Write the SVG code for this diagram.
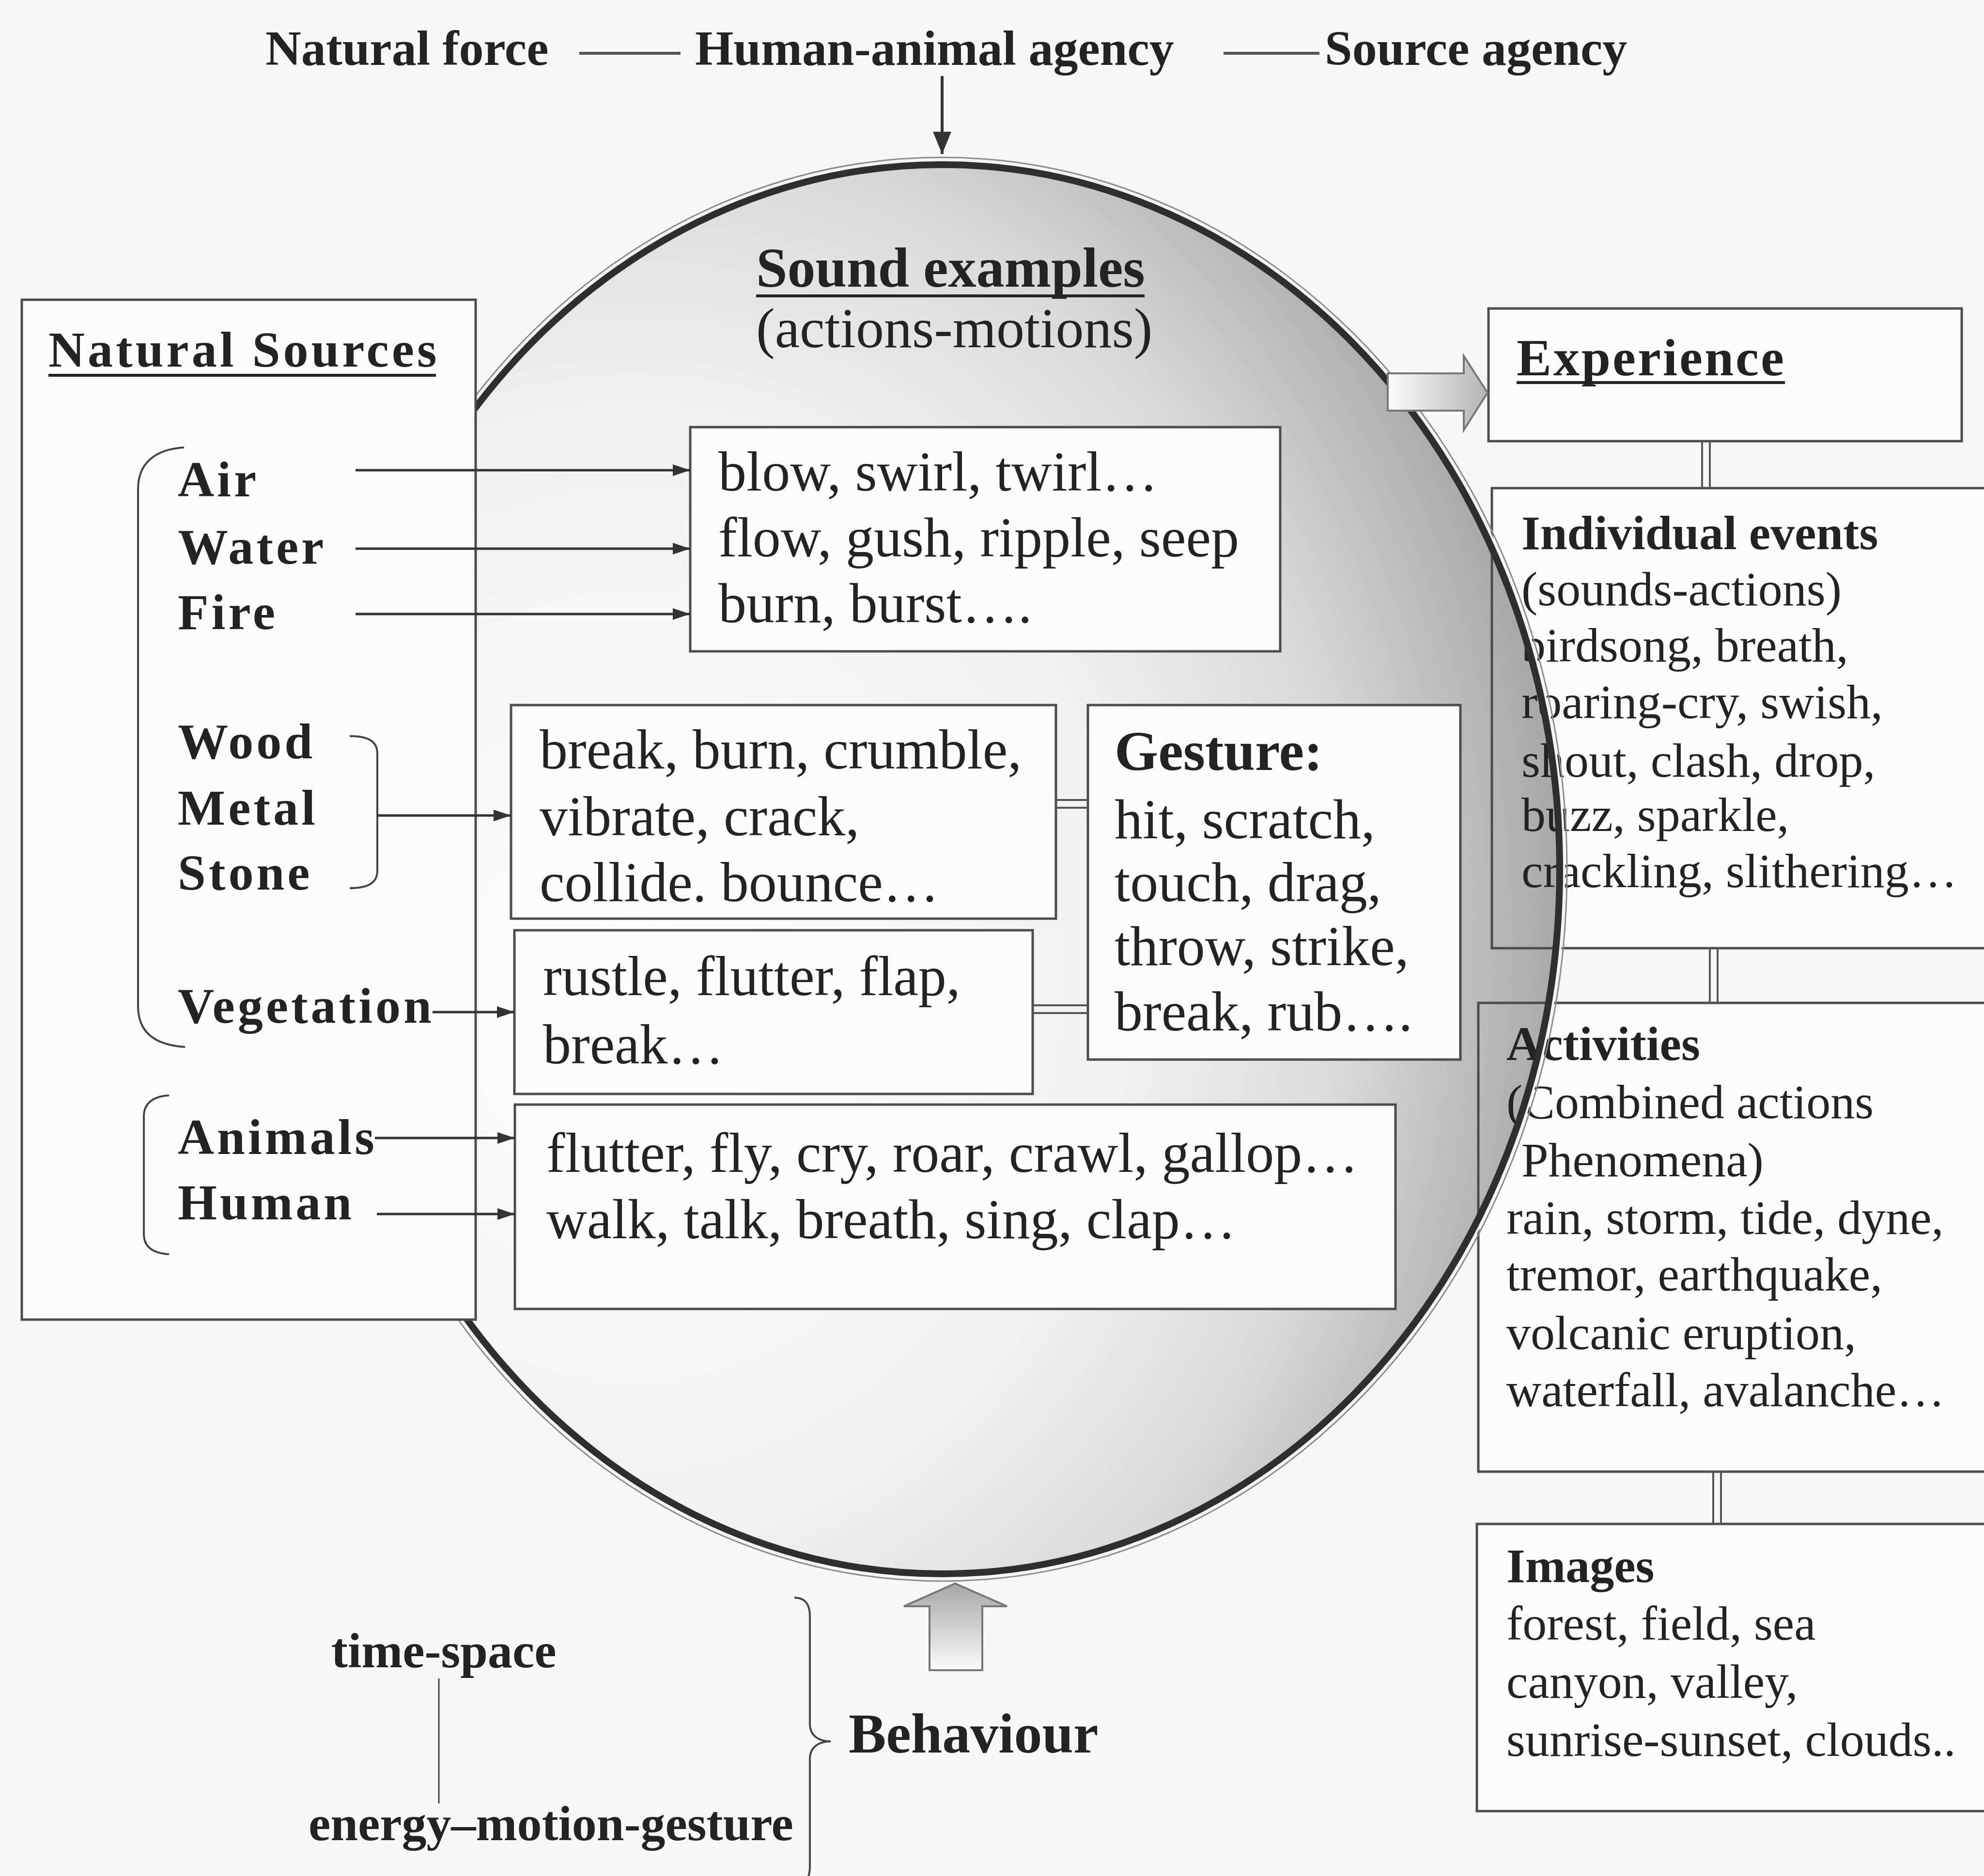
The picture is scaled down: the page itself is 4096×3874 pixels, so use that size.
<svg xmlns="http://www.w3.org/2000/svg" width="4096" height="3874" viewBox="0 0 4096 3874">
  <defs>
    <style>
      .t { font-family: "Liberation Serif", "Times New Roman", serif; fill: #232323; }
      .top { font-size: 102px; font-weight: bold; }
      .src { font-size: 104px; font-weight: bold; letter-spacing: 6px; }
      .ex { font-size: 116px; }
      .exb { font-size: 116px; font-weight: bold; }
      .rc { font-size: 100px; }
      .rcb { font-size: 100px; font-weight: bold; }
      .hd { font-size: 108px; font-weight: bold; letter-spacing: 4px; }
      .box { fill: #fbfbfb; stroke: #4d4d4d; stroke-width: 5; }
      .fill { fill: #fbfbfb; stroke: none; }
      .frame { fill: none; stroke: #4d4d4d; stroke-width: 5; }
      .ul { stroke: #232323; stroke-width: 6; }
      .arr { stroke: #333; stroke-width: 5; fill: none; marker-end: url(#head); }
      .dbl { stroke: #555; stroke-width: 4; }
      .brk { fill: none; stroke: #444; stroke-width: 4; }
      .dash { stroke: #555; stroke-width: 6; }
    </style>
    <marker id="head" markerUnits="userSpaceOnUse" markerWidth="36" markerHeight="24" refX="36" refY="12" orient="auto">
      <path d="M0,0 L36,12 L0,24 Z" fill="#333"/>
    </marker>
    <marker id="headBig" markerUnits="userSpaceOnUse" markerWidth="46" markerHeight="38" refX="46" refY="19" orient="auto">
      <path d="M0,0 L46,19 L0,38 Z" fill="#333"/>
    </marker>
    <radialGradient id="bowl" cx="0.25" cy="0.55" r="0.8" fx="0.25" fy="0.6">
      <stop offset="0" stop-color="#ffffff"/>
      <stop offset="0.5" stop-color="#f1f1f1"/>
      <stop offset="0.72" stop-color="#dadada"/>
      <stop offset="0.88" stop-color="#b6b6b6"/>
      <stop offset="1" stop-color="#9a9a9a"/>
    </radialGradient>
    <linearGradient id="arrowR" x1="0" y1="0" x2="1" y2="0">
      <stop offset="0" stop-color="#fbfbfb"/>
      <stop offset="1" stop-color="#b4b4b4"/>
    </linearGradient>
    <linearGradient id="arrowU" x1="0" y1="1" x2="0" y2="0">
      <stop offset="0" stop-color="#fbfbfb"/>
      <stop offset="1" stop-color="#a6a6a6"/>
    </linearGradient>
    <!-- keeps box fills out of the ellipse so its shading shows through -->
    <mask id="outside" maskUnits="userSpaceOnUse" x="0" y="0" width="4200" height="3874">
      <rect x="0" y="0" width="4200" height="3874" fill="#fff"/>
      <ellipse cx="1945" cy="1795" rx="1275" ry="1455" fill="#000"/>
    </mask>
  </defs>

  <rect x="0" y="0" width="4096" height="3874" fill="#f7f7f7"/>

  <!-- agency line -->
  <g id="agency">
    <text class="t top" x="548" y="134">Natural force</text>
    <line class="dash" x1="1196" y1="110" x2="1405" y2="110"/>
    <text class="t top" x="1435" y="134">Human-animal agency</text>
    <line class="dash" x1="2526" y1="110" x2="2724" y2="110"/>
    <text class="t top" x="2735" y="134">Source agency</text>
  </g>

  <!-- central ellipse: shaded body -->
  <g id="sound-examples">
    <ellipse cx="1945" cy="1795" rx="1275" ry="1455" fill="url(#bowl)"/>
    <text class="t exb" x="1561" y="592">Sound examples</text>
    <line class="ul" x1="1561" y1="611" x2="2363" y2="611"/>
    <text class="t ex" x="1561" y="717">(actions-motions)</text>
  </g>

  <!-- action boxes inside the ellipse -->
  <g id="elements-actions">
    <rect class="box" x="1425" y="882" width="1218" height="463"/>
    <text class="t ex" x="1483" y="1013">blow, swirl, twirl…</text>
    <text class="t ex" x="1483" y="1149">flow, gush, ripple, seep</text>
    <text class="t ex" x="1483" y="1285">burn, burst….</text>
  </g>
  <g id="material-actions">
    <rect class="box" x="1055" y="1456" width="1125" height="441"/>
    <text class="t ex" x="1114" y="1587">break, burn, crumble,</text>
    <text class="t ex" x="1114" y="1725">vibrate, crack,</text>
    <text class="t ex" x="1114" y="1861">collide. bounce…</text>
  </g>
  <g id="vegetation-actions">
    <rect class="box" x="1062" y="1921" width="1070" height="338"/>
    <text class="t ex" x="1121" y="2055">rustle, flutter, flap,</text>
    <text class="t ex" x="1121" y="2196">break…</text>
  </g>
  <g id="gesture">
    <rect class="box" x="2246" y="1456" width="769" height="732"/>
    <text class="t exb" x="2301" y="1590">Gesture:</text>
    <text class="t ex" x="2301" y="1731">hit, scratch,</text>
    <text class="t ex" x="2301" y="1861">touch, drag,</text>
    <text class="t ex" x="2301" y="1993">throw, strike,</text>
    <text class="t ex" x="2301" y="2128">break, rub….</text>
  </g>
  <g id="living-actions">
    <rect class="box" x="1063" y="2281" width="1818" height="422"/>
    <text class="t ex" x="1128" y="2420">flutter, fly, cry, roar, crawl, gallop…</text>
    <text class="t ex" x="1128" y="2557">walk, talk, breath, sing, clap…</text>
  </g>

  <!-- experience column -->
  <g id="experience">
    <rect class="box" x="3073" y="637" width="977" height="274"/>
    <text class="t hd" x="3131" y="775">Experience</text>
    <line class="ul" x1="3131" y1="790" x2="3685" y2="790"/>
  </g>
  <g id="individual-events">
    <rect class="fill" x="3080" y="1008" width="1040" height="950" mask="url(#outside)"/>
    <rect class="frame" x="3080" y="1008" width="1040" height="950"/>
    <text class="t rcb" x="3141" y="1134">Individual events</text>
    <text class="t rc" x="3141" y="1250">(sounds-actions)</text>
    <text class="t rc" x="3141" y="1366">birdsong, breath,</text>
    <text class="t rc" x="3141" y="1483">roaring-cry, swish,</text>
    <text class="t rc" x="3141" y="1604">shout, clash, drop,</text>
    <text class="t rc" x="3141" y="1716">buzz, sparkle,</text>
    <text class="t rc" x="3141" y="1832">crackling, slithering…</text>
  </g>
  <g id="activities">
    <rect class="fill" x="3052" y="2071" width="1070" height="968" mask="url(#outside)"/>
    <rect class="frame" x="3052" y="2071" width="1070" height="968"/>
    <text class="t rcb" x="3110" y="2189">Activities</text>
    <text class="t rc" x="3110" y="2309">(Combined actions</text>
    <text class="t rc" x="3141" y="2429">Phenomena)</text>
    <text class="t rc" x="3110" y="2548">rain, storm, tide, dyne,</text>
    <text class="t rc" x="3110" y="2665">tremor, earthquake,</text>
    <text class="t rc" x="3110" y="2786">volcanic eruption,</text>
    <text class="t rc" x="3110" y="2904">waterfall, avalanche…</text>
  </g>
  <g id="images">
    <rect class="box" x="3049" y="3147" width="1075" height="593"/>
    <text class="t rcb" x="3110" y="3267">Images</text>
    <text class="t rc" x="3110" y="3386">forest, field, sea</text>
    <text class="t rc" x="3110" y="3506">canyon, valley,</text>
    <text class="t rc" x="3110" y="3626">sunrise-sunset, clouds..</text>
  </g>

  <!-- ellipse rim, drawn over the experience column -->
  <g id="sound-examples-rim" fill="none">
    <ellipse cx="1945" cy="1795" rx="1290" ry="1470" stroke="#8c8c8c" stroke-width="3"/>
    <ellipse cx="1945" cy="1795" rx="1284" ry="1464" stroke="#f4f4f4" stroke-width="5"/>
    <ellipse cx="1945" cy="1795" rx="1275" ry="1455" stroke="#2e2e2e" stroke-width="14"/>
  </g>

  <!-- natural sources panel -->
  <g id="natural-sources">
    <rect x="45" y="619" width="937" height="2106" fill="#fbfbfb" stroke="#4d4d4d" stroke-width="5"/>
    <text class="t src" x="100" y="757">Natural Sources</text>
    <line class="ul" x1="100" y1="775" x2="900" y2="775"/>
    <text class="t src" x="367" y="1025">Air</text>
    <text class="t src" x="367" y="1164">Water</text>
    <text class="t src" x="367" y="1299">Fire</text>
    <text class="t src" x="367" y="1566">Wood</text>
    <text class="t src" x="367" y="1703">Metal</text>
    <text class="t src" x="367" y="1837">Stone</text>
    <text class="t src" x="367" y="2112">Vegetation</text>
    <text class="t src" x="367" y="2383">Animals</text>
    <text class="t src" x="367" y="2518">Human</text>
    <path class="brk" d="M380,924 C318,928 285,958 285,1010 L285,2078 C285,2130 318,2158 382,2162"/>
    <path class="brk" d="M722,1520 C762,1520 779,1532 779,1556 L779,1798 C779,1822 762,1834 722,1834"/>
    <path class="brk" d="M349,2262 C314,2264 297,2280 297,2305 L297,2548 C297,2574 314,2588 349,2590"/>
  </g>

  <!-- behaviour -->
  <g id="behaviour">
    <text class="t top" x="684" y="3443">time-space</text>
    <line x1="906" y1="3466" x2="906" y2="3724" stroke="#444" stroke-width="3"/>
    <text class="t top" x="637" y="3800">energy–motion-gesture</text>
    <path class="brk" d="M1640,3299 C1664,3300 1672,3314 1672,3338 L1672,3560 C1672,3584 1690,3596 1715,3596 C1690,3596 1672,3608 1672,3632 L1672,3854 C1672,3878 1664,3892 1640,3893"/>
    <text class="t exb" x="1752" y="3619">Behaviour</text>
  </g>

  <!-- connectors -->
  <g id="connectors">
    <line x1="1945" y1="157" x2="1945" y2="318" stroke="#333" stroke-width="6" marker-end="url(#headBig)"/>
    <line class="arr" x1="734" y1="971" x2="1425" y2="971"/>
    <line class="arr" x1="734" y1="1133" x2="1425" y2="1133"/>
    <line class="arr" x1="734" y1="1268" x2="1425" y2="1268"/>
    <line class="arr" x1="779" y1="1684" x2="1055" y2="1684"/>
    <line class="arr" x1="893" y1="2090" x2="1062" y2="2090"/>
    <line class="arr" x1="774" y1="2350" x2="1063" y2="2350"/>
    <line class="arr" x1="778" y1="2507" x2="1063" y2="2507"/>
    <line class="dbl" x1="2180" y1="1652" x2="2246" y2="1652"/>
    <line class="dbl" x1="2180" y1="1668" x2="2246" y2="1668"/>
    <line class="dbl" x1="2132" y1="2076" x2="2246" y2="2076"/>
    <line class="dbl" x1="2132" y1="2092" x2="2246" y2="2092"/>
    <line class="dbl" x1="3514" y1="911" x2="3514" y2="1008"/>
    <line class="dbl" x1="3530" y1="911" x2="3530" y2="1008"/>
    <line class="dbl" x1="3530" y1="1958" x2="3530" y2="2071"/>
    <line class="dbl" x1="3546" y1="1958" x2="3546" y2="2071"/>
    <line class="dbl" x1="3537" y1="3039" x2="3537" y2="3147"/>
    <line class="dbl" x1="3553" y1="3039" x2="3553" y2="3147"/>
    <polygon points="2865,771 3022,771 3022,735 3071,811 3022,888 3022,848 2865,848" fill="url(#arrowR)" stroke="#777" stroke-width="4"/>
    <polygon points="1972,3270 2079,3317 2028,3317 2028,3449 1919,3449 1919,3317 1866,3317" fill="url(#arrowU)" stroke="#777" stroke-width="4"/>
  </g>
</svg>
